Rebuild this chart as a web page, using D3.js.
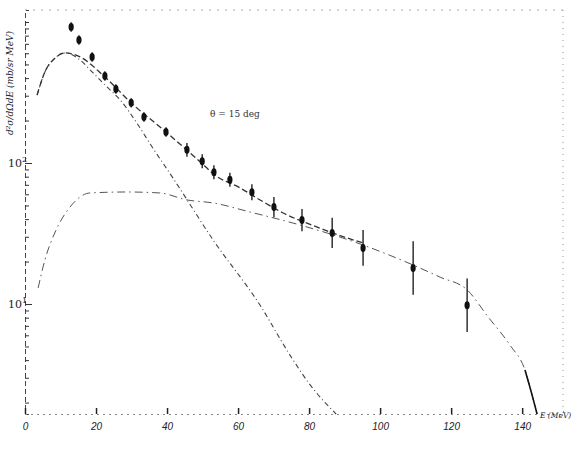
<!DOCTYPE html>
<html>
<head>
<meta charset="utf-8">
<script src="https://cdn.jsdelivr.net/npm/d3@7/dist/d3.min.js"></script>
<style>
  body { margin: 0; background: #fff; }
  svg { font-family: "DejaVu Serif", serif; }
</style>
</head>
<body>
<div id="chart"></div>
<script>
// measured points (E in MeV, cross section)
const pointE   = [13.0, 15.2, 18.9, 22.5, 25.6, 29.9, 33.5, 39.7, 45.6, 49.9, 53.2, 57.7, 63.9, 70.1, 78.0, 86.5, 95.2, 109.3, 124.5];
const pointSig = [922, 745, 565, 414, 335, 267, 212, 166, 124, 103, 86, 76, 62, 48.7, 39.4, 31.9, 25.0, 18.0, 9.8];
const pointErr = [1.08, 1.08, 1.08, 1.08, 1.08, 1.08, 1.08, 1.08, 1.12, 1.12, 1.12, 1.12, 1.14, 1.18, 1.2, 1.28, 1.34, 1.55, 1.55];

// calculated curves
const totalE   = [3.4, 5.6, 8.5, 11.3, 15.5, 22.5, 29.9, 39.7, 49.3, 53.5, 60.6, 66.2, 72.7, 82.3, 90.7, 95.2];
const totalSig = [303, 442, 556, 603, 565, 407, 267, 166, 102, 82, 66.5, 54.7, 44.2, 35.1, 29.4, 27.1];

const evapE    = [3.4, 5.6, 8.5, 11.3, 15.5, 19.2, 23.1, 26.8, 31.5, 35.8, 41.7, 53.0, 66.2, 74.6, 80.3, 87.6];
const evapSig  = [303, 442, 556, 603, 537, 435, 346, 280, 192, 130, 78, 28.4, 9.8, 4.35, 2.67, 1.66];

const directE   = [3.7, 5.6, 8.5, 12.7, 18.3, 28.7, 38.0, 45.6, 53.0, 63.4, 77.5, 95.2, 109.3, 116.9, 124.5, 130.4, 136.6, 140.8, 142.8, 144.2];
const directSig = [13.0, 20.5, 32.4, 48.8, 61.3, 62.3, 61.3, 54.7, 52.1, 44.9, 36.3, 26.2, 18.9, 15.5, 12.6, 8.1, 5.1, 3.4, 2.26, 1.66];

const xTicks = [0, 20, 40, 60, 80, 100, 120, 140];
const yMajor = [10, 100];
const yMajorLabels = [["10", "1"], ["10", "2"]];

const width = 577, height = 464;
const svg = d3.select("#chart").append("svg")
    .attr("width", width)
    .attr("height", height);

let x = d3.scaleLinear().domain([0, 151.5]).range([25, 563]);
let y = d3.scaleLog().domain([1.66, 1216]).range([414, 10]);

// frame (faint dotted top and right)
svg.append("line")
    .attr("x1", 25).attr("x2", 563).attr("y1", 10).attr("y2", 10)
    .attr("stroke", "#aaa").attr("stroke-width", 1).attr("stroke-dasharray", "2,6");
svg.append("line")
    .attr("x1", 563).attr("x2", 563).attr("y1", 10).attr("y2", 414)
    .attr("stroke", "#999").attr("stroke-width", 1).attr("stroke-dasharray", "1,5");

// left axis, ticks pointing inward
let yAxis = d3.axisLeft(y)
    .tickValues(y.ticks())
    .tickSize(-4)
    .tickFormat("");
let gy = svg.append("g")
    .attr("transform", "translate(25,0)")
    .call(yAxis);
gy.select(".domain").attr("stroke", "#444").attr("stroke-dasharray", "5,3");
gy.selectAll(".tick line")
    .attr("stroke", "#333")
    .attr("x2", d => yMajor.includes(d) ? 7 : 4);

yMajor.forEach((v, i) => {
    let t = svg.append("text")
        .attr("x", 8)
        .attr("y", y(v) + 4)
        .attr("font-size", 11)
        .attr("fill", "#222");
    t.append("tspan").text(yMajorLabels[i][0]);
    t.append("tspan")
        .attr("dy", -5)
        .attr("font-size", 8)
        .text(yMajorLabels[i][1]);
});

// bottom axis
let xAxis = d3.axisBottom(x)
    .tickValues(xTicks)
    .tickSize(-6)
    .tickPadding(9)
    .tickFormat(d3.format("d"));
let gx = svg.append("g")
    .attr("transform", "translate(0,414)")
    .call(xAxis);
gx.select(".domain").attr("stroke", "#888").attr("stroke-dasharray", "2,4");
gx.selectAll(".tick line").attr("stroke", "#222").attr("stroke-width", 1.5);
gx.selectAll(".tick text")
    .attr("font-size", 10)
    .attr("font-style", "italic")
    .attr("fill", "#222");

svg.append("text")
    .attr("x", 540)
    .attr("y", 418)
    .attr("font-size", 7.5)
    .attr("font-style", "italic")
    .attr("fill", "#222")
    .text("E (MeV)");

svg.append("text")
    .attr("transform", "translate(13,135) rotate(-90)")
    .attr("font-size", 9)
    .attr("font-style", "italic")
    .attr("fill", "#222")
    .text("d\u00b2\u03c3/d\u03a9dE (mb/sr MeV)");

svg.append("text")
    .attr("x", 210)
    .attr("y", 117)
    .attr("font-size", 9)
    .attr("fill", "#333")
    .text("\u03b8 = 15 deg");

// curves
const line = d3.line()
    .x(d => x(d[0]))
    .y(d => y(d[1]))
    .curve(d3.curveMonotoneX);

svg.append("path")
    .datum(d3.zip(evapE, evapSig))
    .attr("fill", "none")
    .attr("stroke", "#444")
    .attr("stroke-width", 1.1)
    .attr("stroke-dasharray", "5,3,1,3")
    .attr("d", line);

svg.append("path")
    .datum(d3.zip(directE, directSig))
    .attr("fill", "none")
    .attr("stroke", "#555")
    .attr("stroke-width", 1)
    .attr("stroke-dasharray", "8,4,1.5,4")
    .attr("d", line);

// steep solid tail of the direct curve
svg.append("path")
    .datum(d3.zip(directE, directSig).slice(-3))
    .attr("fill", "none")
    .attr("stroke", "#111")
    .attr("stroke-width", 1.6)
    .attr("d", line);

svg.append("path")
    .datum(d3.zip(totalE, totalSig))
    .attr("fill", "none")
    .attr("stroke", "#333")
    .attr("stroke-width", 1.3)
    .attr("stroke-dasharray", "6,3")
    .attr("d", line);

// data points with error bars
let pts = svg.append("g")
    .selectAll("g")
    .data(d3.zip(pointE, pointSig, pointErr))
    .join("g");

pts.append("line")
    .attr("x1", d => x(d[0])).attr("x2", d => x(d[0]))
    .attr("y1", d => y(d[1] * d[2])).attr("y2", d => y(d[1] / d[2]))
    .attr("stroke", "#111")
    .attr("stroke-width", 1.3);

pts.append("ellipse")
    .attr("cx", d => x(d[0]))
    .attr("cy", d => y(d[1]))
    .attr("rx", 2.6)
    .attr("ry", 4)
    .attr("fill", "#111");
</script>
</body>
</html>
